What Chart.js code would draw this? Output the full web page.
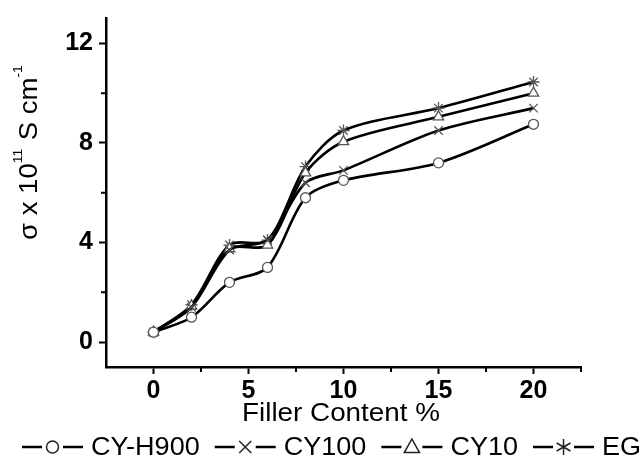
<!DOCTYPE html>
<html><head><meta charset="utf-8">
<script src="https://cdn.jsdelivr.net/npm/chart.js@4.4.1/dist/chart.umd.min.js"></script>
<style>html,body{margin:0;padding:0;background:#fff}#wrap{width:641px;height:459px}</style>
</head><body><div id="wrap"><canvas id="c" width="641" height="459"></canvas></div>
<script>
// ---- data ----
const fillerContent = [0, 2, 4, 6, 8, 10, 15, 20];
const seriesNames = ['CY-H900', 'CY100', 'CY10', 'EG'];
const cyH900 = [0.4, 1.0, 2.4, 3.0, 5.8, 6.5, 7.2, 8.75];
const cy100  = [0.4, 1.4, 3.7, 4.1, 6.4, 6.9, 8.5, 9.4];
const cy10   = [0.4, 1.45, 3.75, 3.9, 6.8, 8.05, 9.05, 10.0];
const eg     = [0.4, 1.5, 3.9, 4.1, 7.05, 8.5, 9.4, 10.45];
const xTickValues = [0, 5, 10, 15, 20];
const yTickValues = [0, 4, 8, 12];
const xMinorTicks = [2.5, 7.5, 12.5, 17.5, 22.5];
const yMinorTicks = [2, 6, 10];
const xTitle = 'Filler Content %';

const seriesValues = [cyH900, cy100, cy10, eg];
const markers = ['circle', 'crossRot', 'triangle', 'star'];
const markerRadius = [5, 6, 6, 6];

const FONT = '"Liberation Sans", Arial, sans-serif';
const SX = 1.04; // horizontal stretch of the reference text

function drawMarker(ctx, style, x, y, r, color, lw) {
  ctx.save();
  ctx.strokeStyle = color; ctx.fillStyle = '#fff'; ctx.lineWidth = lw;
  ctx.beginPath();
  if (style === 'circle') {
    ctx.arc(x, y, r, 0, Math.PI * 2); ctx.fill(); ctx.stroke();
  } else if (style === 'triangle') {
    ctx.moveTo(x, y - r); ctx.lineTo(x + r * 0.95, y + r * 0.7); ctx.lineTo(x - r * 0.95, y + r * 0.7); ctx.closePath();
    ctx.fill(); ctx.stroke();
  } else if (style === 'crossRot') {
    const d = r * 0.75;
    ctx.moveTo(x - d, y - d); ctx.lineTo(x + d, y + d);
    ctx.moveTo(x + d, y - d); ctx.lineTo(x - d, y + d); ctx.stroke();
  } else if (style === 'star') {
    for (let i = 0; i < 3; i++) {
      const a = Math.PI / 2 + i * Math.PI / 3;
      ctx.moveTo(x - r * Math.cos(a), y - r * Math.sin(a));
      ctx.lineTo(x + r * Math.cos(a), y + r * Math.sin(a));
    }
    ctx.stroke();
  }
  ctx.restore();
}

function stretchedText(ctx, text, x, y, align, sx) {
  const s = sx || SX;
  const w = ctx.measureText(text).width * s;
  let left = x;
  if (align === 'center') left = x - w / 2;
  ctx.save();
  ctx.textAlign = 'left';
  ctx.translate(left, y);
  ctx.scale(s, 1);
  ctx.fillText(text, 0, 0);
  ctx.restore();
  return w;
}

const decorPlugin = {
  id: 'decor',
  afterDraw(chart) {
    const ctx = chart.ctx;
    const xs = chart.scales.x, ys = chart.scales.y;
    const area = chart.chartArea;
    ctx.save();
    // minor ticks
    ctx.strokeStyle = '#000'; ctx.lineWidth = 2;
    ctx.beginPath();
    xMinorTicks.forEach(v => { const px = xs.getPixelForValue(v); ctx.moveTo(px, area.bottom); ctx.lineTo(px, area.bottom + 5); });
    yMinorTicks.forEach(v => { const py = ys.getPixelForValue(v); ctx.moveTo(area.left, py); ctx.lineTo(area.left - 5, py); });
    ctx.stroke();

    // x title
    ctx.fillStyle = '#000';
    ctx.font = '26px ' + FONT;
    ctx.textBaseline = 'middle';
    stretchedText(ctx, xTitle, 341, 414, 'center', 1.07);

    // y title with superscripts, rotated
    ctx.save();
    ctx.translate(37, 240);
    ctx.rotate(-Math.PI / 2);
    ctx.textBaseline = 'alphabetic';
    const parts = [
      { t: 'σ x 10', sup: false },
      { t: '11', sup: true },
      { t: ' S cm', sup: false },
      { t: '-1', sup: true }
    ];
    let cx = 0;
    parts.forEach(p => {
      ctx.font = (p.sup ? '13px ' : '26px ') + FONT;
      cx += stretchedText(ctx, p.t, cx, p.sup ? -15 : 0, 'left', 1.06) + (p.sup ? 1 : 0);
    });
    ctx.restore();

    // legend
    const ly = 447;
    let lx = 22;
    ctx.font = '26px ' + FONT;
    ctx.textBaseline = 'middle';
    seriesNames.forEach((name, i) => {
      ctx.strokeStyle = '#000'; ctx.lineWidth = 2.5;
      ctx.beginPath();
      ctx.moveTo(lx, ly); ctx.lineTo(lx + 20, ly);
      ctx.moveTo(lx + 41, ly); ctx.lineTo(lx + 61, ly);
      ctx.stroke();
      drawMarker(ctx, markers[i], lx + 30.5, ly, markers[i] === 'circle' ? 6 : 8, '#222', 1.5);
      ctx.fillStyle = '#000';
      const w = stretchedText(ctx, name, lx + 69, ly + 1, 'left');
      lx += 69 + w + 15;
    });
    ctx.restore();
  }
};

const datasets = seriesNames.map((name, i) => ({
  label: name,
  data: fillerContent.map((x, j) => ({ x: x, y: seriesValues[i][j] })),
  borderColor: '#000',
  borderWidth: 2.6,
  tension: 0.3,
  fill: false,
  pointStyle: markers[i],
  pointRadius: markerRadius[i],
  pointBorderColor: '#555',
  pointBorderWidth: 1.3,
  pointBackgroundColor: '#fff'
}));

new Chart(document.getElementById('c'), {
  type: 'line',
  data: { datasets },
  options: {
    responsive: false,
    animation: false,
    devicePixelRatio: 1,
    layout: { padding: { top: 14, right: 60, left: 0, bottom: 0 } },
    plugins: { legend: { display: false }, tooltip: { enabled: false } },
    scales: {
      x: {
        type: 'linear', min: -2.5, max: 22.5,
        afterBuildTicks: s => { s.ticks = xTickValues.map(v => ({ value: v })); },
        afterFit: s => { s.height = 92; },
        ticks: { font: { family: FONT, size: 25, weight: 'bold', lineHeight: 1 }, color: '#000', padding: 5, maxRotation: 0, autoSkip: false },
        grid: { drawOnChartArea: false, drawTicks: true, tickLength: 7, tickWidth: 2, tickColor: '#000' },
        border: { display: true, color: '#000', width: 2.5 }
      },
      y: {
        type: 'linear', min: -1, max: 13,
        afterBuildTicks: s => { s.ticks = yTickValues.map(v => ({ value: v })); },
        afterFit: s => { s.width = 106; },
        ticks: { font: { family: FONT, size: 25, weight: 'bold', lineHeight: 1 }, color: '#000', padding: 6 },
        grid: { drawOnChartArea: false, drawTicks: true, tickLength: 7, tickWidth: 2, tickColor: '#000' },
        border: { display: true, color: '#000', width: 2.5 }
      }
    }
  },
  plugins: [decorPlugin]
});
</script>
</body></html>
